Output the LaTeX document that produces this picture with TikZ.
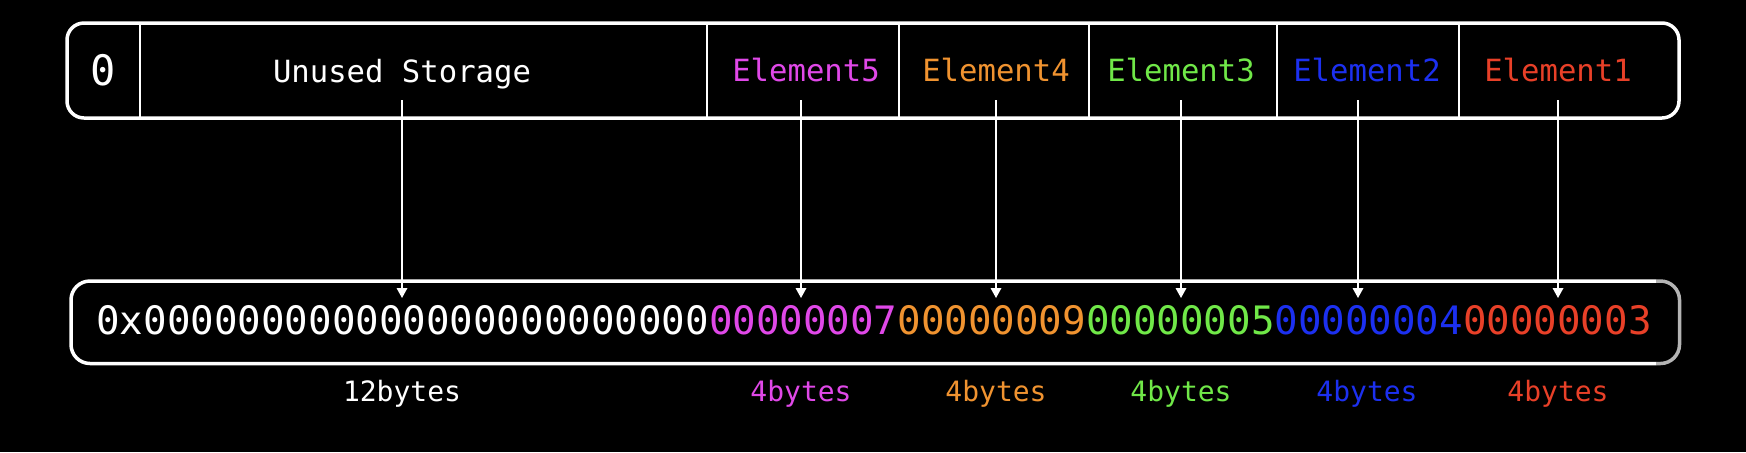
\documentclass[tikz,border=0pt]{standalone}
\usepackage{fontspec}
\usetikzlibrary{arrows.meta}
\newfontfamily\monofont{DejaVu Sans Mono}
\definecolor{cfive}{RGB}{224,72,232}
\definecolor{cfour}{RGB}{240,147,48}
\definecolor{cthree}{RGB}{112,232,72}
\definecolor{ctwo}{RGB}{28,48,240}
\definecolor{cone}{RGB}{232,64,40}
\definecolor{edgegray}{RGB}{180,180,180}
\tikzset{
  boxline/.style={draw=white,line width=1.75pt},
  divider/.style={draw=white,line width=1pt},
  ptr/.style={draw=white,line width=0.75pt,-{Triangle[width=5.3pt,length=5pt]}},
  toplabel/.style={inner sep=0pt,anchor=base,font=\monofont\fontsize{15.3}{18}\selectfont},
  sizelabel/.style={inner sep=0pt,anchor=base,font=\monofont\fontsize{14}{17}\selectfont},
  hexlabel/.style={inner sep=0pt,anchor=base,font=\monofont\fontsize{19.57}{23}\selectfont},
  zerolabel/.style={inner sep=0pt,anchor=base,font=\monofont\fontsize{21}{25}\selectfont,text=white}
}
\begin{document}
\begin{tikzpicture}[x=0.5pt,y=-0.5pt]
\fill[black] (0,0) rectangle (1746,452);
\useasboundingbox (0,0) rectangle (1746,452);
% top box
\draw[boxline,rounded corners=8.5pt] (67,23) rectangle (1679,118);
\foreach \xx in {140,707,899,1089,1277,1459}{
  \draw[divider] (\xx,23) -- (\xx,118);
}
\node[zerolabel] (zero) at (103,85) {0};
\node[toplabel,text=white] (unused) at (402,82) {Unused Storage};
\node[toplabel,text=cfive] (e5) at (806,81) {Element5};
\node[toplabel,text=cfour] (e4) at (996,81) {Element4};
\node[toplabel,text=cthree] (e3) at (1181,81) {Element3};
\node[toplabel,text=ctwo] (e2) at (1367,81) {Element2};
\node[toplabel,text=cone] (e1) at (1558,81) {Element1};
% bottom box
\draw[boxline,rounded corners=9.5pt] (1656,281) -- (71,281) -- (71,363.5) -- (1656,363.5);
\draw[boxline,draw=edgegray,rounded corners=9.5pt] (1656,363.5) -- (1679.5,363.5) -- (1679.5,281) -- (1656,281);
\node[hexlabel] (hex) at (874,334) {\color{white}0x000000000000000000000000\color{cfive}00000007\color{cfour}00000009\color{cthree}00000005\color{ctwo}00000004\color{cone}00000003};
% size labels
\node[sizelabel,text=white] (s0) at (402,401) {12bytes};
\node[sizelabel,text=cfive] (s5) at (801,401) {4bytes};
\node[sizelabel,text=cfour] (s4) at (996,401) {4bytes};
\node[sizelabel,text=cthree] (s3) at (1181,401) {4bytes};
\node[sizelabel,text=ctwo] (s2) at (1367,401) {4bytes};
\node[sizelabel,text=cone] (s1) at (1558,401) {4bytes};
% pointers
\foreach \nm/\xx in {u/402,f/801,d/996,c/1181,b/1358,a/1558}{
  \coordinate (\nm top) at (\xx,100);
  \coordinate (\nm bot) at (\xx,298);
  \draw[ptr] (\nm top) -- (\nm bot);
}
\end{tikzpicture}
\end{document}
